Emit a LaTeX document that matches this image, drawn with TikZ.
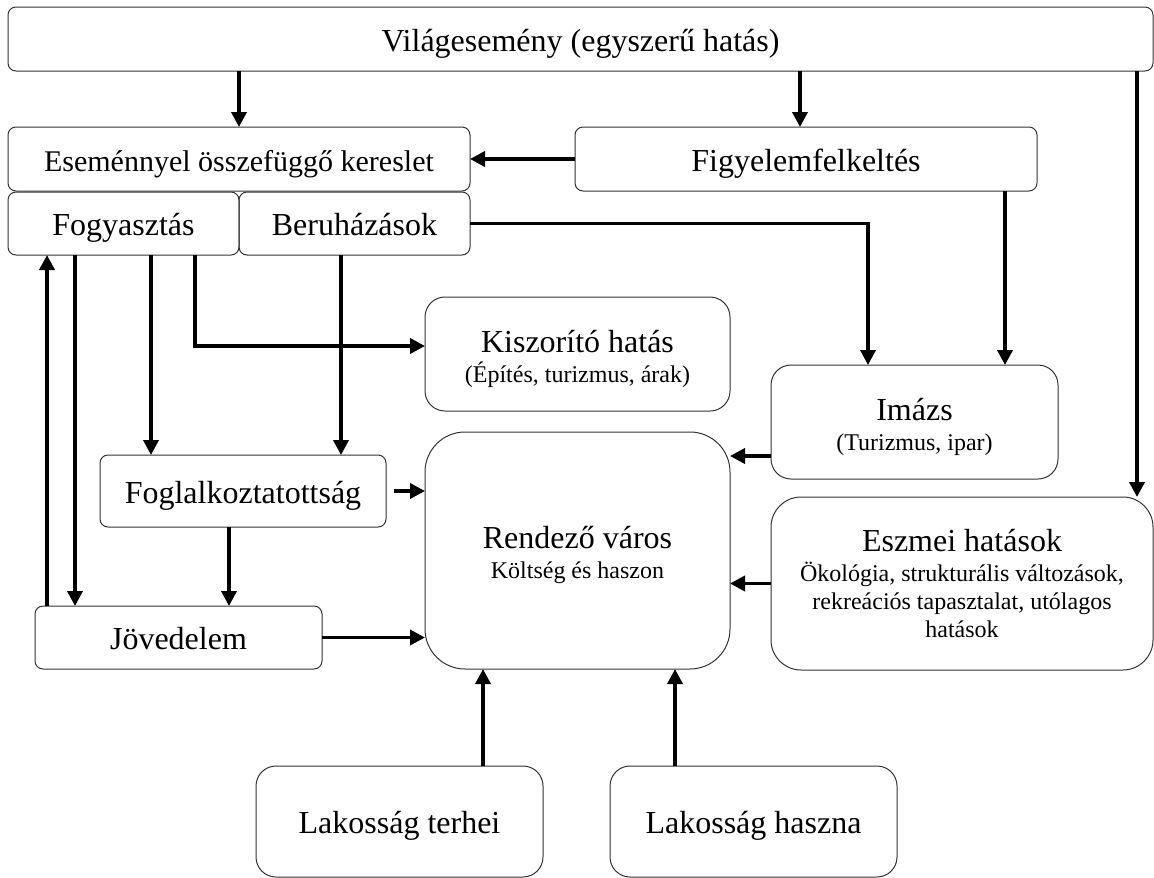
\documentclass[tikz,border=0pt]{standalone}
\usepackage{fontspec}
\setmainfont{Liberation Serif}
\usetikzlibrary{arrows.meta}
\newcommand{\subt}{\fontsize{24}{30}\selectfont}
\tikzset{
  bx/.style={draw=black!80, line width=1pt, rounded corners=#1, inner sep=0pt, outer sep=0pt,
    anchor=north west, align=center, font=\fontsize{32}{30}\selectfont},
  bx/.default=8pt,
  one/.style={text height=30pt, text depth=6pt},
  arr/.style={line width=3.6pt, -{Triangle[length=15pt,width=15pt]}},
}
\begin{document}
\begin{tikzpicture}[x=1pt,y=-1pt]
\useasboundingbox (0,0) rectangle (1154,878);
% boxes
\node[bx,one,minimum width=1145pt,minimum height=64pt] (top) at (8,7) {Világesemény (egyszerű hatás)};
\node[bx,one,minimum width=462pt,minimum height=64pt,font=\fontsize{30}{30}\selectfont] (dem) at (8,127) {Eseménnyel összefüggő kereslet};
\node[bx,one,minimum width=462pt,minimum height=64pt] (fig) at (575,127) {Figyelemfelkeltés};
\node[bx,one,minimum width=231pt,minimum height=63pt] (fog) at (8,192) {Fogyasztás};
\node[bx,one,minimum width=231pt,minimum height=63pt] (ber) at (239,192) {Beruházások};
\node[bx=20pt,minimum width=305pt,minimum height=114pt] (kisz) at (425,297) {\rule{0pt}{33pt}Kiszorító hatás\\{\subt (Építés, turizmus, árak)}};
\node[bx=20pt,minimum width=287pt,minimum height=114pt] (imazs) at (771,365) {\rule{0pt}{32pt}Imázs\\{\subt (Turizmus, ipar)}};
\node[bx=40pt,minimum width=305pt,minimum height=237pt] (rend) at (425,432) {\rule{0pt}{31pt}Rendező város\\{\subt Költség és haszon}};
\node[bx,one,minimum width=286pt,minimum height=72pt] (fogl) at (100,455) {Foglalkoztatottság};
\node[bx,one,minimum width=287pt,minimum height=63pt] (jov) at (35,606) {Jövedelem};
\node[bx=30pt,minimum width=382pt,minimum height=173pt] (eszm) at (771,497) {Eszmei hatások\\{\subt Ökológia, strukturális változások,}\\[-2pt]{\subt rekreációs tapasztalat, utólagos}\\[-2pt]{\subt hatások}};
\node[bx=20pt,one,minimum width=287pt,minimum height=111pt] (lt) at (256,766) {Lakosság terhei};
\node[bx=20pt,one,minimum width=287pt,minimum height=111pt] (lh) at (610,766) {Lakosság haszna};
% helper coordinates
\coordinate (c2) at ([xshift=-6pt]fig.north);
\coordinate (c3) at ([xshift=-16pt]eszm.north east);
\coordinate (c5) at ([xshift=-32pt]fig.south east);
\coordinate (c6) at ([xshift=97pt]imazs.north west);
\coordinate (c7) at ([xshift=-44pt]fog.south east);
\coordinate (c7b) at ([yshift=8pt]kisz.west);
\coordinate (c8) at ([xshift=143pt]fog.south west);
\coordinate (c9) at ([xshift=102pt]ber.south west);
\coordinate (c10) at ([xshift=67pt]fog.south west);
\coordinate (c11) at ([xshift=39pt]fog.south west);
\coordinate (c12) at ([xshift=129pt]fogl.south west);
\coordinate (c13) at ([xshift=8pt]fogl.east);
\coordinate (c15) at ([yshift=-34pt]imazs.west);
\coordinate (c17) at ([xshift=227pt]lt.north west);
\coordinate (c18) at ([xshift=65pt]lh.north west);
% connectors
\draw[arr] (top.south -| dem.north) -- (dem.north);
\draw[arr] (c2 |- top.south) -- (c2);
\draw[arr] (c3 |- top.south) -- (c3);
\draw[arr] (fig.west) -- (dem.east);
\draw[arr] (c5) -- (c5 |- imazs.north);
\draw[arr] (ber.east) -| (c6);
\draw[arr] (c7) |- (c7b);
\draw[arr] (c8) -- (c8 |- fogl.north);
\draw[arr] (c9) -- (c9 |- fogl.north);
\draw[arr] (c10) -- (c10 |- jov.north);
\draw[arr] (c11 |- jov.north) -- (c11);
\draw[arr] (c12) -- (c12 |- jov.north);
\draw[arr] (c13) -- (c13 -| rend.west);
\draw[arr] (jov.east) -- (jov.east -| rend.west);
\draw[arr] (c15) -- (c15 -| rend.east);
\draw[arr] (eszm.west) -- (eszm.west -| rend.east);
\draw[arr] (c17) -- (c17 |- rend.south);
\draw[arr] (c18) -- (c18 |- rend.south);
\end{tikzpicture}
\end{document}
